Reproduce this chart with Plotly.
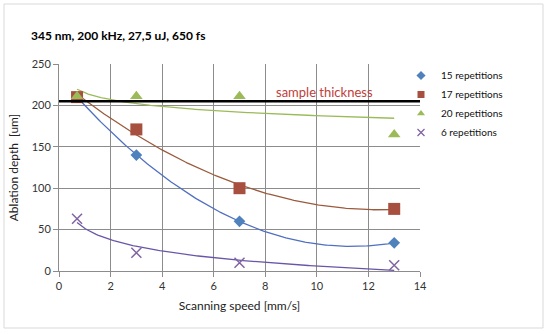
import numpy as np
import plotly.graph_objects as go

# ---- data ----
speed = [0.7, 3, 7, 13]
rep15 = [210, 140, 60, 34]
rep17 = [210, 171, 100, 75]
rep20 = [211, 211, 211, 165]
rep6 = [63, 22, 10, 7]
sample_thickness = 205
series_names = ["15 repetitions", "17 repetitions", "20 repetitions", "6 repetitions"]
x_ticks = [0, 2, 4, 6, 8, 10, 12, 14]
y_ticks = [0, 50, 100, 150, 200, 250]

FONT = "Lato, 'Open Sans', sans-serif"
colors = ["#4F81BD", "#A8503F", "#9BBB59", "#8064A2"]
trend_colors = ["#4F6FC0", "#9A5A3C", "#9BBB59", "#6A55A8"]
symbols = ["diamond", "square", "triangle-up", "x-thin"]
sizes = [9, 12, 11, 10]

xs = np.array(speed, dtype=float)
xfit = np.linspace(xs.min(), xs.max(), 200)


def poly2(y):
    c = np.polyfit(xs, np.array(y, float), 2)
    return np.polyval(c, xfit)


def logfit(y):
    b, a = np.polyfit(np.log(xs), np.array(y, float), 1)
    return a + b * np.log(xfit)


fits = [poly2(rep15), poly2(rep17), logfit(rep20), logfit(rep6)]
data = [rep15, rep17, rep20, rep6]

fig = go.Figure()

# trendlines
for i in range(4):
    fig.add_trace(go.Scatter(x=xfit, y=fits[i], mode="lines",
                             line=dict(color=trend_colors[i], width=1.3),
                             showlegend=False, hoverinfo="skip"))

# data markers
for i in range(4):
    mk = dict(symbol=symbols[i], size=sizes[i], color=colors[i])
    if symbols[i] == "x-thin":
        mk["line"] = dict(color=colors[i], width=1.5)
    fig.add_trace(go.Scatter(x=speed, y=data[i], mode="markers", marker=mk,
                             name=series_names[i], showlegend=False))

# legend-only entries with small symbols
for i in range(4):
    mk = dict(symbol=symbols[i], size=7, color=colors[i])
    if symbols[i] == "x-thin":
        mk["line"] = dict(color=colors[i], width=1.3)
    fig.add_trace(go.Scatter(x=[None], y=[None], mode="markers", marker=mk,
                             name=series_names[i], showlegend=True))

# sample thickness line
fig.add_shape(type="line", xref="paper", yref="y", x0=0, x1=1,
              y0=sample_thickness, y1=sample_thickness,
              line=dict(color="black", width=2.5), layer="above")
fig.add_annotation(x=8.35, y=sample_thickness, xref="x", yref="y",
                   text="sample thickness", showarrow=False,
                   xanchor="left", yanchor="bottom", yshift=-1,
                   font=dict(family=FONT, size=13, color="#C0403A"))

# outer border
fig.add_shape(type="rect", xref="paper", yref="paper",
              x0=(4 - 59) / 361, x1=(543 - 59) / 361,
              y0=-(328 - 271) / 207, y1=1 + (64 - 4) / 207,
              line=dict(color="#D9D9D9", width=1), layer="below")

# title
fig.add_annotation(x=(29 - 59) / 361, y=1 + (64 - 35) / 207, xref="paper", yref="paper",
                   text="<b>345 nm, 200 kHz, 27,5 uJ, 650 fs</b>", showarrow=False,
                   xanchor="left", yanchor="middle",
                   font=dict(family=FONT, size=12, color="black"))

axis_common = dict(showgrid=True, gridcolor="#8C8C8C", gridwidth=1,
                   showline=True, linecolor="#8C8C8C", linewidth=1,
                   ticks="outside", ticklen=5, tickcolor="#8C8C8C",
                   tickfont=dict(family=FONT, size=11, color="#333333"),
                   zeroline=False)

fig.update_layout(
    width=550, height=334,
    margin=dict(l=59, r=130, t=64, b=63),
    paper_bgcolor="white", plot_bgcolor="white",
    font=dict(family=FONT, size=12, color="#333333"),
    xaxis=dict(range=[0, 14], tickvals=x_ticks,
               title=dict(text="Scanning speed [mm/s]", standoff=10,
                          font=dict(family=FONT, size=12, color="#222222")),
               **axis_common),
    yaxis=dict(range=[0, 250], tickvals=y_ticks,
               title=dict(text="Ablation depth  [um]", standoff=10,
                          font=dict(family=FONT, size=12, color="#222222")),
               **axis_common),
    legend=dict(x=(401 - 59) / 361, xanchor="left", y=1 + 3 / 207, yanchor="top",
                font=dict(family=FONT, size=10, color="#111111"),
                bgcolor="rgba(0,0,0,0)", itemwidth=30, tracegroupgap=0),
    showlegend=True,
)

fig.write_html("out.html", config={"displayModeBar": False},
               post_script="document.body.style.margin='0';")
